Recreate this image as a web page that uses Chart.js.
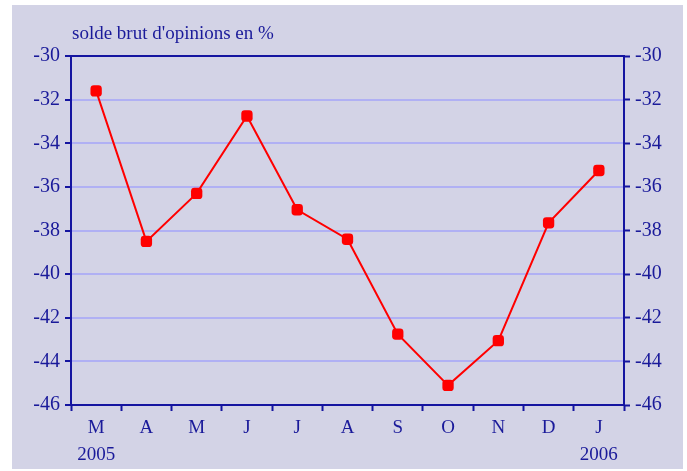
<!DOCTYPE html>
<html>
<head>
<meta charset="utf-8">
<script src="https://cdn.jsdelivr.net/npm/chart.js@4/dist/chart.umd.min.js"></script>
<style>
  html, body { margin: 0; padding: 0; background: #ffffff; }
  #wrap { width: 687px; height: 471px; position: relative; }
</style>
</head>
<body>
<div id="wrap"><canvas id="c" width="687" height="471"></canvas></div>
<script>
const months = ["M", "A", "M", "J", "J", "A", "S", "O", "N", "D", "J"];
const years = ["2005", "", "", "", "", "", "", "", "", "", "2006"];
const solde = [-31.6, -38.5, -36.3, -32.75, -37.05, -38.4, -42.75, -45.1, -43.05, -37.65, -35.25];
const yTicks = [-46, -44, -42, -40, -38, -36, -34, -32, -30];
const titleText = "solde brut d'opinions en %";

const labels = months.map((m, i) => [m, years[i]]);

const AXIS = "#1414a0";
const TEXT = "#1a1a9a";
const GRID = "#b0b0f4";
const BG = "#d3d3e6";
const FONT = "'Liberation Serif', 'Times New Roman', serif";

const bgPlugin = {
  id: "bg",
  beforeDraw(chart) {
    const ctx = chart.ctx;
    ctx.save();
    ctx.fillStyle = BG;
    ctx.fillRect(12, 5, 671, 464);
    ctx.restore();
  },
  afterDraw(chart) {
    const ctx = chart.ctx;
    const a = chart.chartArea;
    ctx.save();
    ctx.fillStyle = TEXT;
    ctx.font = "19px " + FONT;
    ctx.textAlign = "left";
    ctx.textBaseline = "alphabetic";
    ctx.fillText(titleText, a.left + 1, 39);
    ctx.restore();
  }
};

new Chart(document.getElementById("c"), {
  type: "line",
  data: {
    labels: labels,
    datasets: [{
      data: solde,
      borderColor: "#ff0000",
      backgroundColor: "#ff0000",
      borderWidth: 2,
      pointStyle: "rectRounded",
      pointRadius: 6.6,
      pointBorderWidth: 0,
      pointBackgroundColor: "#ff0000",
      tension: 0,
      yAxisID: "y"
    }]
  },
  options: {
    responsive: false,
    animation: false,
    devicePixelRatio: 1,
    layout: { padding: { top: 56, left: 0, right: 0, bottom: 0 } },
    plugins: { legend: { display: false }, tooltip: { enabled: false }, title: { display: false } },
    scales: {
      x: {
        type: "category",
        offset: true,
        grid: {
          offset: true,
          drawOnChartArea: false,
          drawTicks: true,
          tickLength: 6,
          tickColor: AXIS,
          tickWidth: 2
        },
        border: { color: AXIS, width: 2 },
        ticks: {
          color: TEXT,
          font: { family: FONT, size: 19, lineHeight: 1.42 },
          padding: 4,
          maxRotation: 0,
          autoSkip: false
        },
        afterFit(scale) { scale.height = 66; }
      },
      y: {
        position: "left",
        min: -46,
        max: -30,
        afterBuildTicks(scale) { scale.ticks = yTicks.map(v => ({ value: v })); },
        grid: {
          color: (c) => (c.tick && c.tick.value === -30) ? AXIS : GRID,
          lineWidth: 2,
          drawTicks: true,
          tickLength: 6,
          tickColor: AXIS,
          tickWidth: 2
        },
        border: { color: AXIS, width: 2 },
        ticks: {
          color: TEXT,
          font: { family: FONT, size: 20 },
          padding: 5
        },
        afterFit(scale) { scale.width = 71; }
      },
      y2: {
        position: "right",
        min: -46,
        max: -30,
        afterBuildTicks(scale) { scale.ticks = yTicks.map(v => ({ value: v })); },
        grid: {
          drawOnChartArea: false,
          drawTicks: true,
          tickLength: 6,
          tickColor: AXIS,
          tickWidth: 2
        },
        border: { color: AXIS, width: 2 },
        ticks: {
          color: TEXT,
          font: { family: FONT, size: 20 },
          padding: 5
        },
        afterFit(scale) { scale.width = 63; }
      }
    }
  },
  plugins: [bgPlugin]
});
</script>
</body>
</html>
